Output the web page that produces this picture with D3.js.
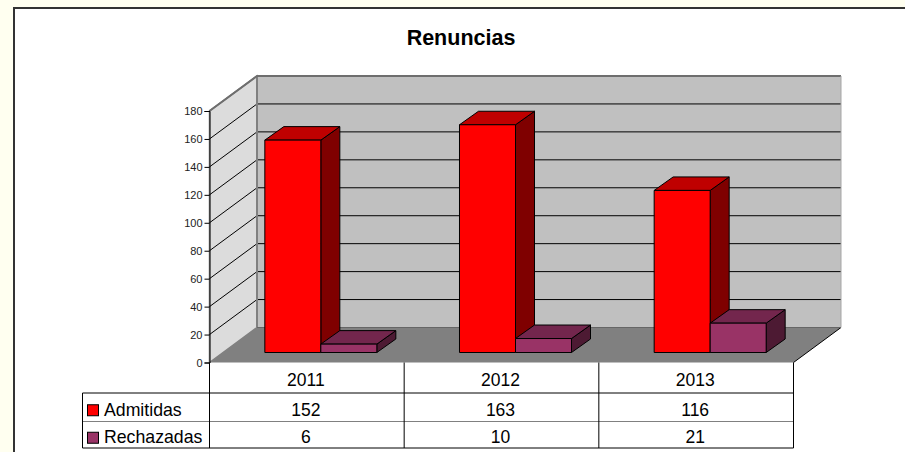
<!DOCTYPE html>
<html lang="en">
<head>
    <meta charset="UTF-8">
    <title>Renuncias</title>
    <style>
        html, body { margin: 0; padding: 0; background: #fffff0; overflow: hidden; }
        text { font-family: "Liberation Sans", Arial, sans-serif; }
    </style>
</head>
<body>
<svg id="svgId"></svg>
<script src="https://cdnjs.cloudflare.com/ajax/libs/d3/7.8.5/d3.min.js"></script>
<script>

    // Data
    const years = ['2011', '2012', '2013'];
    const admitidas = [152, 163, 116];
    const rechazadas = [6, 10, 21];
    const yTicks = [0, 20, 40, 60, 80, 100, 120, 140, 160, 180];

    const series = [
        {name: 'Admitidas', values: admitidas, front: '#ff0000', top: '#bf0000', side: '#7f0000'},
        {name: 'Rechazadas', values: rechazadas, front: '#993366', top: '#73264d', side: '#4d1a33'}
    ];

    // Layout
    const svgWidth = 905, svgHeight = 452;
    const plot = {left: 209.5, right: 793.5, top: 111, bottom: 362.5};
    const wall = {dx: 47.5, dy: -35};   // depth of the floor / walls
    const bar = {dx: 19, dy: -13.5, offX: 14, offY: -10};   // depth of a bar, and where it sits on the floor
    const rows = [362.5, 393, 421.5, 448];

    const svg = d3.select('#svgId')
        .attr('width', svgWidth)
        .attr('height', svgHeight)
        .style('display', 'block');

    const xScale = d3.scaleBand().domain(years).range([plot.left, plot.right]);
    const yScale = d3.scaleLinear().domain([0, 180]).range([plot.bottom, plot.top]);
    const serieScale = d3.scaleBand().domain(series.map(s => s.name))
        .range([0, xScale.bandwidth()]).paddingInner(0).paddingOuter(0.738);

    const poly = pts => pts.map(p => p.join(',')).join(' ');

    // White chart area with its dark border
    svg.append('rect')
        .attr('x', 14).attr('y', 8)
        .attr('width', svgWidth).attr('height', svgHeight)
        .attr('fill', '#ffffff')
        .attr('stroke', '#333333')
        .attr('stroke-width', 2);

    svg.append('text')
        .attr('x', 461).attr('y', 45)
        .attr('text-anchor', 'middle')
        .attr('font-size', 21.5)
        .attr('font-weight', 'bold')
        .attr('fill', '#000')
        .text('Renuncias');

    // Walls and floor
    const y0 = yScale(0), y1 = yScale(180);
    const walls = svg.append('g').attr('stroke', '#808080').attr('stroke-width', 1.5);
    walls.append('polygon')
        .attr('points', poly([[plot.left, y0], [plot.left + wall.dx, y0 + wall.dy], [plot.left + wall.dx, y1 + wall.dy], [plot.left, y1]]))
        .attr('fill', '#dcdcdc');
    walls.append('polygon')
        .attr('points', poly([[plot.left + wall.dx, y0 + wall.dy], [plot.right + wall.dx, y0 + wall.dy], [plot.right + wall.dx, y1 + wall.dy], [plot.left + wall.dx, y1 + wall.dy]]))
        .attr('fill', '#c0c0c0')
        .attr('stroke', 'none');
    walls.append('polygon')
        .attr('points', poly([[plot.left, y0], [plot.right, y0], [plot.right + wall.dx, y0 + wall.dy], [plot.left + wall.dx, y0 + wall.dy]]))
        .attr('fill', '#808080')
        .attr('stroke', 'none');

    // Gridlines across left and back wall
    svg.append('g').selectAll('path')
        .data(yTicks.filter(d => d > 0 && d < 180))
        .join('path')
        .attr('fill', 'none')
        .attr('stroke', '#000')
        .attr('stroke-width', 1)
        .attr('d', d => `M${plot.left},${yScale(d)}L${plot.left + wall.dx},${yScale(d) + wall.dy}H${plot.right + wall.dx}`);

    // Wall edges
    svg.append('path')
        .attr('fill', 'none')
        .attr('stroke', '#808080')
        .attr('stroke-width', 2)
        .attr('d', `M${plot.left + wall.dx},${y0 + wall.dy}V${y1 + wall.dy}`);
    svg.append('path')
        .attr('fill', 'none')
        .attr('stroke', '#6e6e6e')
        .attr('stroke-width', 2)
        .attr('d', `M${plot.left},${y1}L${plot.left + wall.dx},${y1 + wall.dy}H${plot.right + wall.dx}`);
    svg.append('path')
        .attr('fill', 'none')
        .attr('stroke', '#a6a6a6')
        .attr('stroke-width', 1)
        .attr('d', `M${plot.right + wall.dx},${y1 + wall.dy}V${y0 + wall.dy}`);
    svg.append('path')
        .attr('fill', 'none')
        .attr('stroke', '#000')
        .attr('stroke-width', 1)
        .attr('d', `M${plot.right},${y0}L${plot.right + wall.dx},${y0 + wall.dy}`);
    svg.append('path')
        .attr('fill', 'none')
        .attr('stroke', '#666666')
        .attr('stroke-width', 1)
        .attr('d', `M${plot.left + wall.dx},${y0 + wall.dy}H${plot.right + wall.dx}`);

    // Y axis
    const yAxis = svg.append('g')
        .attr('transform', `translate(${plot.left},0)`)
        .call(d3.axisLeft(yScale).tickValues(yTicks).tickSize(5).tickPadding(2));
    yAxis.selectAll('.domain').attr('stroke', '#000');
    yAxis.selectAll('line').attr('stroke', '#000');
    yAxis.selectAll('text').attr('font-size', 11).attr('fill', '#222').attr('font-family', '"Liberation Sans", Arial, sans-serif');

    // 3D bars
    const barsG = svg.append('g').attr('stroke', '#000').attr('stroke-width', 1).attr('stroke-linejoin', 'round');
    years.forEach((year, i) => {
        series.forEach(s => {
            const x0 = xScale(year) + serieScale(s.name) + bar.offX;
            const x1 = x0 + serieScale.bandwidth();
            const yb = yScale(0) + bar.offY;
            const yt = yScale(s.values[i]) + bar.offY;
            barsG.append('polygon')
                .attr('points', poly([[x1, yb], [x1 + bar.dx, yb + bar.dy], [x1 + bar.dx, yt + bar.dy], [x1, yt]]))
                .attr('fill', s.side);
            barsG.append('polygon')
                .attr('points', poly([[x0, yt], [x1, yt], [x1 + bar.dx, yt + bar.dy], [x0 + bar.dx, yt + bar.dy]]))
                .attr('fill', s.top);
            barsG.append('rect')
                .attr('x', x0).attr('y', yt)
                .attr('width', x1 - x0).attr('height', yb - yt)
                .attr('fill', s.front);
        });
    });

    // Data table
    const table = svg.append('g');
    const tableLeft = 82.5;
    const hline = (x1, x2, y, color) => table.append('line')
        .attr('x1', x1).attr('x2', x2).attr('y1', y).attr('y2', y)
        .attr('stroke', color).attr('stroke-width', 1);
    const vline = (x, y1, y2) => table.append('line')
        .attr('x1', x).attr('x2', x).attr('y1', y1).attr('y2', y2)
        .attr('stroke', '#000').attr('stroke-width', 1);

    hline(tableLeft, plot.right, rows[1], '#000');
    hline(tableLeft, plot.right, rows[2], '#808080');
    hline(tableLeft, plot.right, rows[3], '#000');
    vline(tableLeft, rows[1], rows[3]);
    xScale.domain().forEach(y => vline(xScale(y), rows[0], rows[3]));
    vline(plot.right, rows[0], rows[3]);

    const cell = (x, y, txt, anchor, size) => table.append('text')
        .attr('x', x).attr('y', y)
        .attr('text-anchor', anchor)
        .attr('font-size', size)
        .attr('fill', '#000')
        .text(txt);

    years.forEach(y => cell(xScale(y) + xScale.bandwidth() / 2 - 1, 386, y, 'middle', 17.5));

    series.forEach((s, r) => {
        const rowMid = (rows[r + 1] + rows[r + 2]) / 2;
        table.append('rect')
            .attr('x', 87.5).attr('y', rowMid - 2.5)
            .attr('width', 11).attr('height', 11)
            .attr('fill', s.front)
            .attr('stroke', '#000');
        cell(104, rowMid + 8.5, s.name, 'start', 17.7);
        years.forEach((y, i) => cell(xScale(y) + xScale.bandwidth() / 2 - 1, rowMid + 8.5, s.values[i], 'middle', 17.5));
    });

</script>
</body>
</html>
